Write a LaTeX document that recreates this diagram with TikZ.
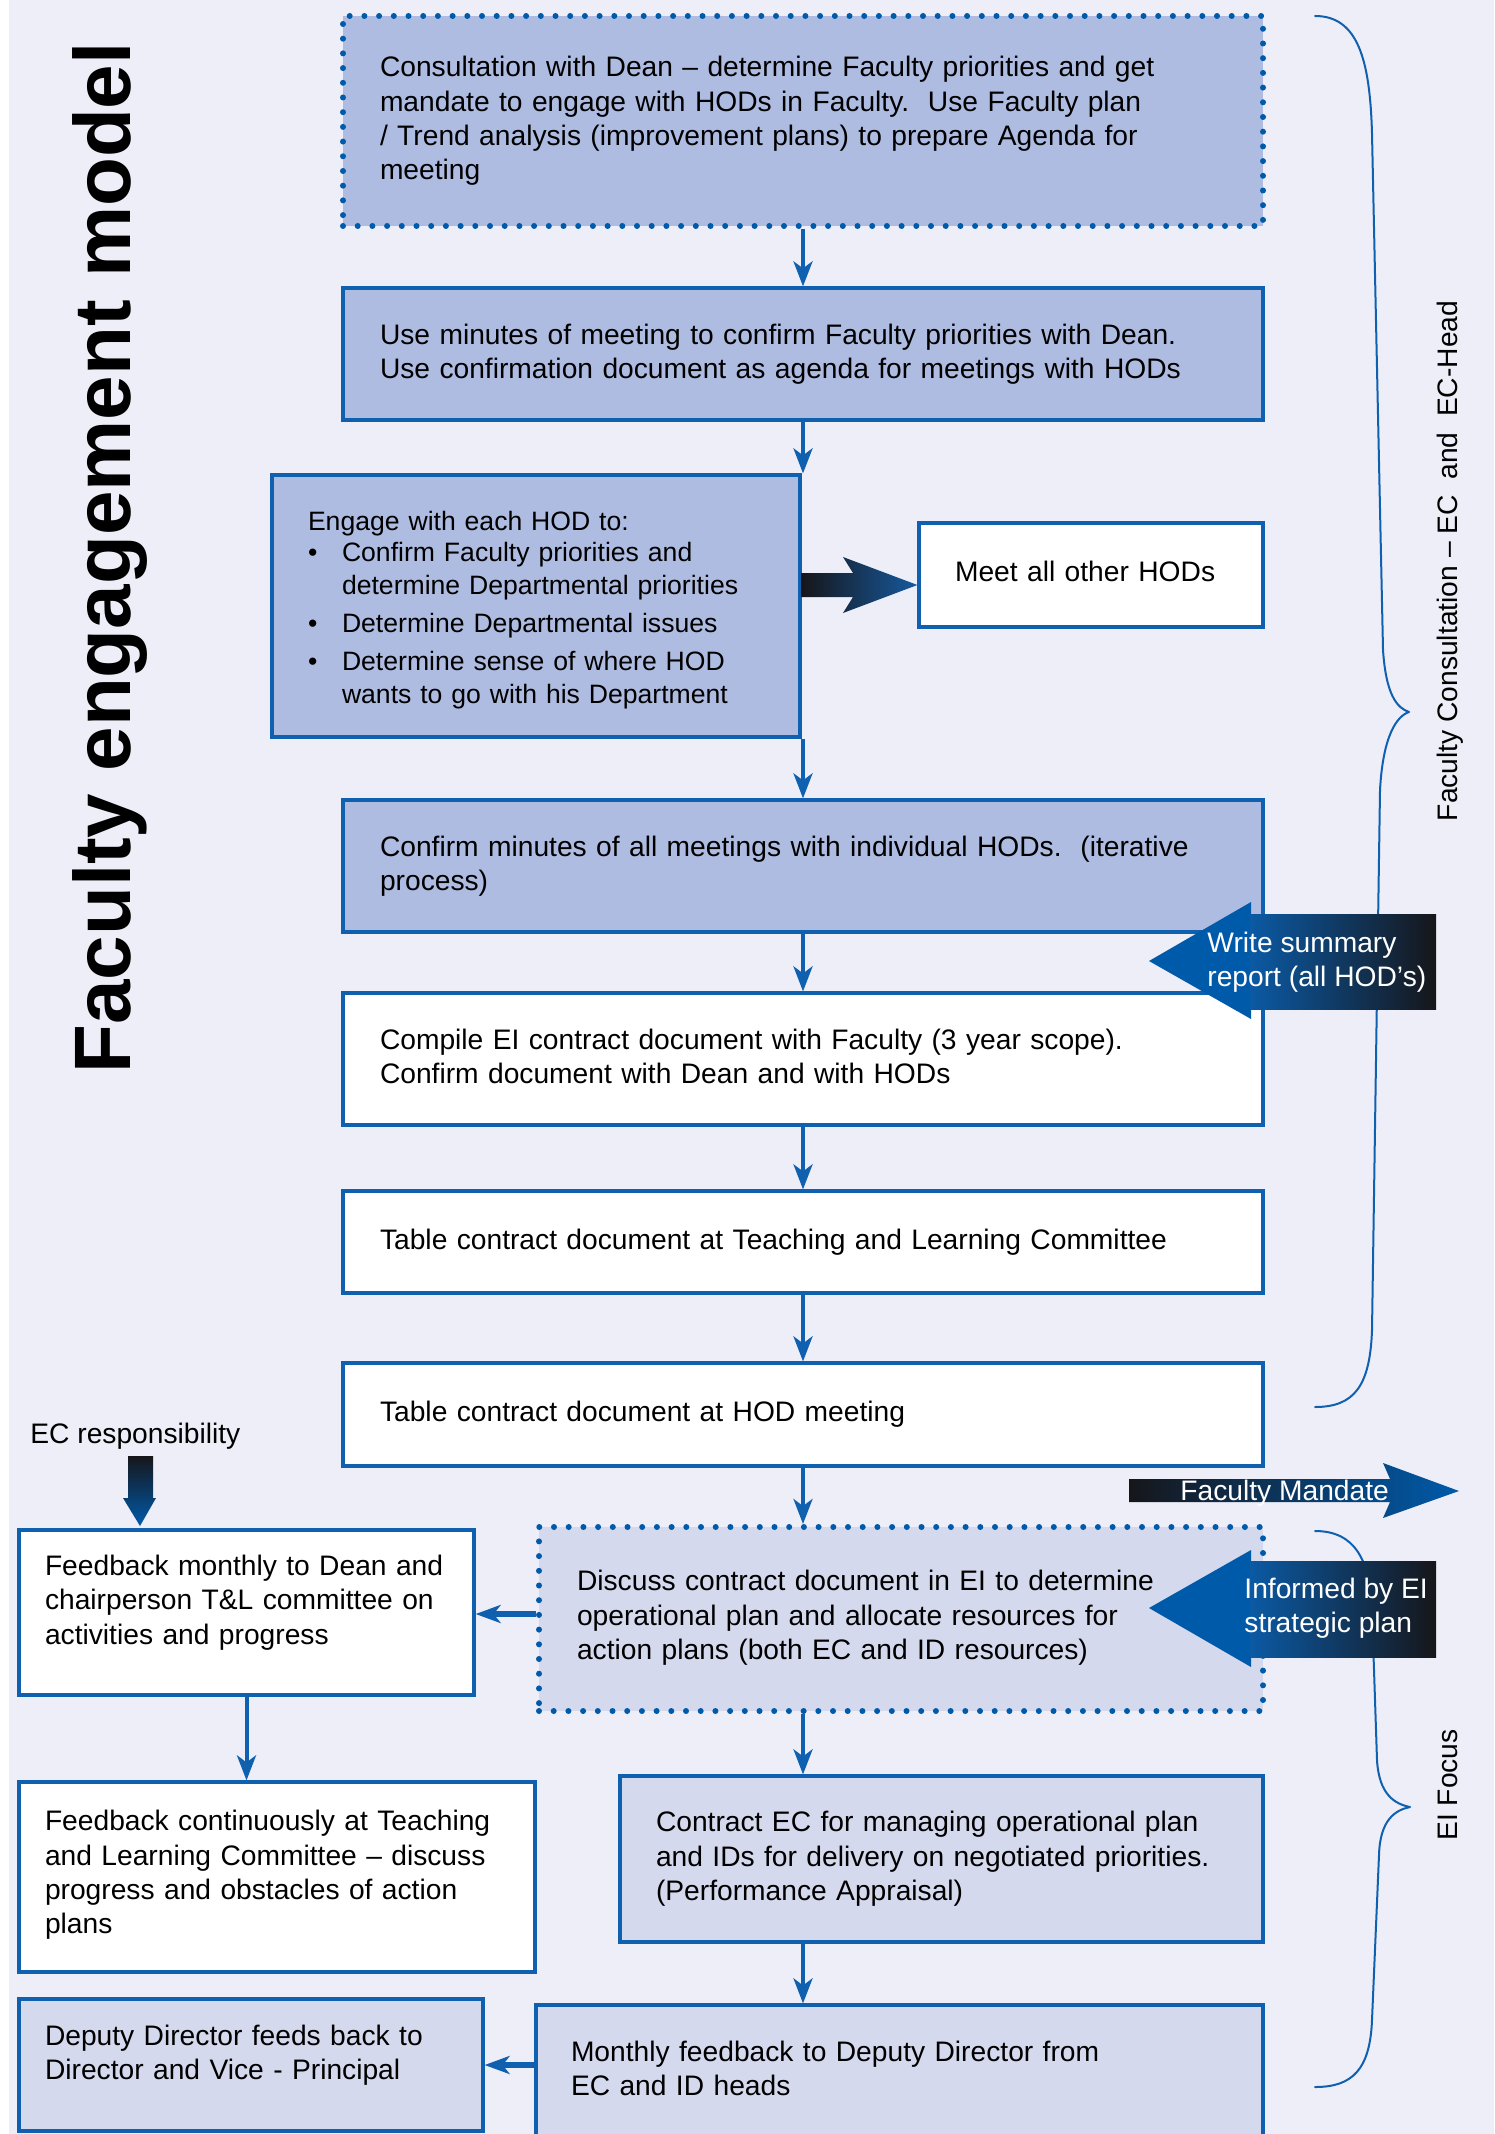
\documentclass[tikz,border=0pt]{standalone}
\usepackage{fontspec}
\setmainfont{Liberation Sans}
\usetikzlibrary{arrows.meta}

\definecolor{pagebg}{RGB}{238,238,248}
\definecolor{lineblue}{RGB}{16,96,176}
\definecolor{deepfill}{RGB}{175,188,226}
\definecolor{palefill}{RGB}{212,217,237}
\definecolor{headblue}{RGB}{0,90,170}
\definecolor{slateblue}{RGB}{72,88,130}
\definecolor{nearblack}{RGB}{22,22,26}

\begin{document}
\begin{tikzpicture}[
				x=0.5pt,
				y=-0.5pt,
				line cap=round,
				line join=round,
				font=\fontsize{14.1}{17.2}\selectfont,
				box/.style={rectangle, draw=lineblue, line width=1.6pt, line join=miter, align=left, inner xsep=18.5pt, inner ysep=0pt, text=black},
				dotbox/.style={box, draw=headblue, line width=3pt, line join=round, dash pattern=on 0pt off 7.35pt},
				flow/.style={draw=lineblue, line width=2pt, line cap=butt, -{Stealth[length=12.5pt, width=9.5pt, inset=3.5pt]}},
				sideflow/.style={flow, line width=2.6pt, -{Stealth[length=12.5pt, width=9pt, inset=3.5pt]}},
				brace/.style={draw=lineblue, line width=1pt},
				tag/.style={inner sep=0pt, text=white, align=left}
				]
				\useasboundingbox (0,0) rectangle (1494,2134);
				% Background
				\fill[white] (0,0) rectangle (1494,2134);
				\fill[pagebg] (9,0) rectangle (1494,2134);
				
				% Title
				\node[rotate=90, anchor=base west, inner sep=0pt, font=\bfseries\fontsize{40}{48}\selectfont] (Title) at (130,1074) {Faculty engagement model};
				
				% Braces
				\draw[brace] (1315,16) .. controls (1358,16) and (1370,60) .. (1372,134)
					-- (1383,650) .. controls (1386,695) and (1397,708) .. (1409,712)
					.. controls (1397,716) and (1383,735) .. (1380,790)
					-- (1372,1330) .. controls (1370,1385) and (1355,1407) .. (1315,1407);
				\node[rotate=90, anchor=base, inner sep=0pt] (FC) at (1457,561) {Faculty Consultation – EC\ \ and\ \ EC-Head};
				\draw[brace] (1315,1531) .. controls (1355,1531) and (1370,1560) .. (1372,1610)
					-- (1377,1760) .. controls (1379,1795) and (1395,1804) .. (1410,1807)
					.. controls (1395,1810) and (1380,1820) .. (1379,1855)
					-- (1372,2020) .. controls (1370,2070) and (1352,2087) .. (1315,2087);
				\node[rotate=90, anchor=base, inner sep=0pt] (EIF) at (1457,1785) {EI Focus};
				
				% Main column
				\node[dotbox, fill=deepfill, text width=423pt, minimum height=105pt] (Dean) at (803,121)
					{Consultation with Dean – determine Faculty priorities and get\\
					mandate to engage with HODs in Faculty.\ \ Use Faculty plan\\
					/ Trend analysis (improvement plans) to prepare Agenda for\\
					meeting};
				\node[box, fill=deepfill, text width=423pt, minimum height=66pt] (Mins) at (803,354)
					{Use minutes of meeting to confirm Faculty priorities with Dean.\\
					Use confirmation document as agenda for meetings with HODs};
				\node[box, fill=deepfill, inner xsep=18pt, text width=228pt, minimum height=131pt, font=\fontsize{13.3}{16.6}\selectfont] (Eng) at (536,606)
					{\rule{0pt}{13.7pt}Engage with each HOD to:\\[-1pt]
					\makebox[17pt][l]{•}Confirm Faculty priorities and\\
					\hspace*{17pt}determine Departmental priorities\\[2.2pt]
					\makebox[17pt][l]{•}Determine Departmental issues\\[2.2pt]
					\makebox[17pt][l]{•}Determine sense of where HOD\\
					\hspace*{17pt}wants to go with his Department};
				\node[box, fill=white, inner xsep=18pt, text width=136pt, minimum height=52pt] (Meet) at (1091,575)
					{Meet all other HODs\rule[-4pt]{0pt}{4pt}};
				\node[box, fill=deepfill, text width=423pt, minimum height=66pt] (Conf) at (803,866)
					{Confirm minutes of all meetings with individual HODs.\ \ (iterative\\
					process)};
				\node[box, fill=white, text width=423pt, minimum height=66pt] (Comp) at (803,1059)
					{Compile EI contract document with Faculty (3 year scope).\\
					Confirm document with Dean and with HODs\rule[-3pt]{0pt}{3pt}};
				\node[box, fill=white, text width=423pt, minimum height=51pt] (TL) at (803,1242)
					{Table contract document at Teaching and Learning Committee};
				\node[box, fill=white, text width=423pt, minimum height=51.5pt] (HOD) at (803,1414.5)
					{Table contract document at HOD meeting};
				
				% Lower part
				\node[box, fill=white, inner xsep=13pt, text width=201.5pt, minimum height=82.5pt] (Fb1) at (246.5,1612.5)
					{Feedback monthly to Dean and\\
					chairperson T\&L committee on\\
					activities and progress\rule[-13pt]{0pt}{13pt}};
				\node[dotbox, fill=palefill, inner xsep=19pt, text width=324pt, minimum height=92pt] (Disc) at (901,1619)
					{Discuss contract document in EI to determine\\
					operational plan and allocate resources for\\
					action plans (both EC and ID resources)\rule[-4pt]{0pt}{4pt}};
				\node[box, fill=white, inner xsep=13pt, text width=232pt, minimum height=95pt] (Fb2) at (277,1877)
					{Feedback continuously at Teaching\\
					and Learning Committee – discuss\\
					progress and obstacles of action\\
					plans\rule[-5pt]{0pt}{5pt}};
				\node[box, fill=palefill, inner xsep=18pt, text width=285.5pt, minimum height=83pt] (Cont) at (941.5,1859)
					{Contract EC for managing operational plan\\
					and IDs for delivery on negotiated priorities.\\
					(Performance Appraisal)};
				\node[box, fill=palefill, inner xsep=13pt, text width=206pt, minimum height=66pt] (Dep) at (251,2065)
					{Deputy Director feeds back to\\
					Director and Vice - Principal\rule[-13pt]{0pt}{13pt}};
				\node[box, fill=palefill, inner xsep=17.5pt, text width=328.5pt, minimum height=70pt] (Mon) at (899.5,2075)
					{Monthly feedback to Deputy Director from\\
					EC and ID heads\rule[-7pt]{0pt}{7pt}};
				
				% Arrows
				\draw[flow] (Dean.south) -- (Mins.north);
				\draw[flow] (Mins.south) -- (Mins.south |- Eng.north);
				\draw[flow] (Conf.north |- Eng.south) -- (Conf.north);
				\draw[flow] (Conf.south) -- (Comp.north);
				\draw[flow] (Comp.south) -- (TL.north);
				\draw[flow] (TL.south) -- (HOD.north);
				\draw[flow] (HOD.south) -- (HOD.south |- Disc.north);
				\draw[flow] (HOD.south |- Disc.south) -- (HOD.south |- Cont.north);
				\draw[flow] (HOD.south |- Cont.south) -- (HOD.south |- Mon.north);
				\draw[flow] (Fb1.south) -- (Fb1.south |- Fb2.north);
				\draw[sideflow] ([yshift=2.5pt]Disc.west) -- ([yshift=2.5pt]Disc.west -| Fb1.east);
				\draw[sideflow] (Dep.east -| Mon.west) -- (Dep.east);
				
				% Fat arrow to other HODs
				\shade[left color=nearblack, middle color=slateblue, right color=headblue!70!slateblue]
					([yshift=16.5pt]Eng.east) -- (853,573) -- (843,557) -- ([yshift=-5pt]Meet.west)
					-- (843,613) -- (853,597) -- ([yshift=4.5pt]Eng.east) -- cycle;
				
				% Write summary
				\fill[headblue] (1149,961) -- (1251,902) -- (1251,1019) -- cycle;
				\shade[left color=headblue!85!slateblue, middle color=slateblue, right color=nearblack] (1250,914) rectangle (1436,1009);
				\node[tag, anchor=west] (Sum) at (1207,962) {Write summary\\report (all HOD’s)};
				
				% Informed by EI
				\fill[headblue] (1149,1608) -- (1251,1550) -- (1251,1667) -- cycle;
				\shade[left color=headblue!85!slateblue, middle color=slateblue, right color=nearblack] (1250,1561) rectangle (1436,1657);
				\node[tag, anchor=west] (Inf) at (1244,1608) {Informed by EI\\strategic plan};
				
				% Faculty Mandate
				\shade[left color=nearblack, middle color=slateblue, right color=headblue]
					(1129,1479) -- (1390,1479) -- (1383,1463) -- (1459,1491) -- (1383,1518) -- (1390,1502) -- (1129,1502) -- cycle;
				\node[tag, anchor=base west] (Man) at (1180,1500) {Faculty Mandate};
				
				% EC responsibility
				\node[anchor=base west, inner sep=0pt] (ECR) at (30,1443) {EC responsibility};
				\shade[top color=nearblack, middle color=slateblue, bottom color=headblue]
					(128,1456) -- (153,1456) -- (153,1498) -- (156,1498) -- (140,1526) -- (123,1498) -- (128,1498) -- cycle;
			\end{tikzpicture}
\end{document}
